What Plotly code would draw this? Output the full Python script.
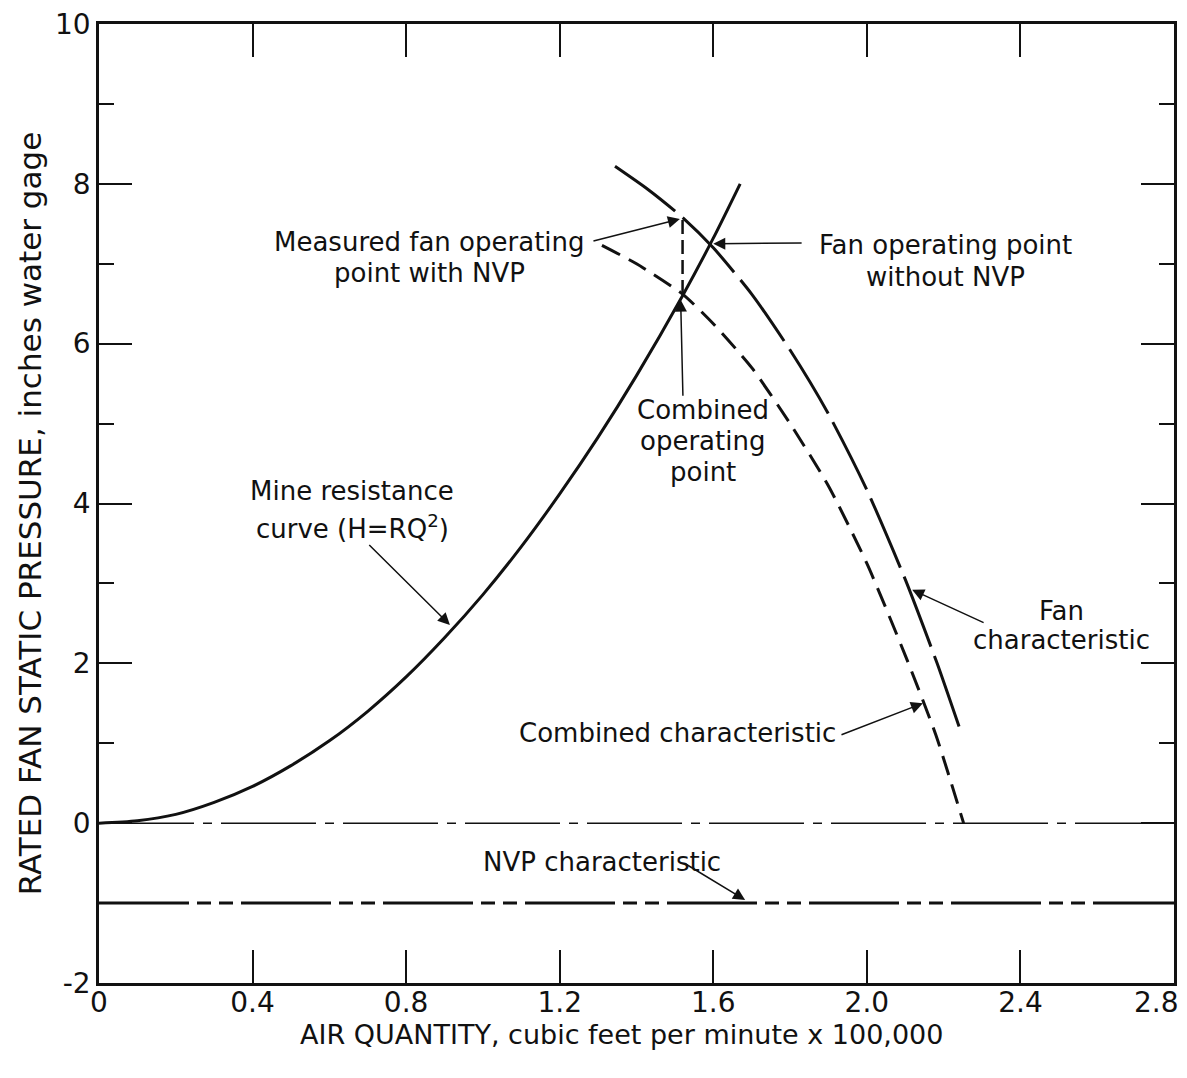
import plotly.graph_objects as go

# ---- data ----
mine_q = [0, 0.1, 0.2, 0.3, 0.4, 0.5, 0.6, 0.7, 0.8, 0.9, 1.0, 1.1, 1.2, 1.3, 1.4, 1.52, 1.6, 1.67]
mine_h = [0, 0.03, 0.11, 0.26, 0.46, 0.72, 1.03, 1.40, 1.83, 2.32, 2.86, 3.46, 4.12, 4.83, 5.60, 6.60, 7.32, 8.0]

fan_q = [1.344, 1.43, 1.52, 1.60, 1.70, 1.80, 1.90, 2.00, 2.10, 2.183, 2.245]
fan_h = [8.22, 7.93, 7.58, 7.20, 6.62, 5.92, 5.12, 4.17, 3.05, 2.00, 1.14]

comb_q = [1.31, 1.40, 1.52, 1.60, 1.70, 1.80, 1.90, 2.00, 2.10, 2.18, 2.252]
comb_h = [7.23, 7.00, 6.62, 6.25, 5.70, 5.00, 4.22, 3.25, 2.10, 1.10, 0.0]

measured_q = [1.52, 1.52]
measured_h = [6.62, 7.58]

zero_q = [0, 2.8]
zero_h = [0, 0]

nvp_q = [0, 2.8]
nvp_h = [-1, -1]

x_ticks = [0, 0.4, 0.8, 1.2, 1.6, 2.0, 2.4, 2.8]
x_ticklabels = ["0", "0.4", "0.8", "1.2", "1.6", "2.0", "2.4", "2.8\u00a0\u00a0\u00a0\u00a0"]
y_ticks = [-2, 0, 2, 4, 6, 8, 10]
y_ticklabels = ["-2", "0", "2", "4", "6", "8", "10"]
y_minor_ticks = [-1, 1, 3, 5, 7, 9]

FONT = "DejaVu Sans"
BLACK = "#111111"

fig = go.Figure()

fig.add_trace(go.Scatter(x=zero_q, y=zero_h, mode="lines",
                         line=dict(color=BLACK, width=1.5, dash="95px,9px,9px,9px")))
fig.add_trace(go.Scatter(x=nvp_q, y=nvp_h, mode="lines",
                         line=dict(color=BLACK, width=3, dash="90px,8px,14px,8px,14px,8px")))
fig.add_trace(go.Scatter(x=mine_q, y=mine_h, mode="lines",
                         line=dict(color=BLACK, width=3, shape="spline", smoothing=0.8)))
fig.add_trace(go.Scatter(x=fan_q, y=fan_h, mode="lines",
                         line=dict(color=BLACK, width=3, shape="spline", smoothing=0.6, dash="75px,10px")))
fig.add_trace(go.Scatter(x=comb_q, y=comb_h, mode="lines",
                         line=dict(color=BLACK, width=3, shape="spline", smoothing=0.6, dash="20px,10px")))
fig.add_trace(go.Scatter(x=measured_q, y=measured_h, mode="lines",
                         line=dict(color=BLACK, width=2.5, dash="14px,6px")))

annotations = []

def label(lines, x, y, spacing=31, size=26):
    n = len(lines)
    for i, t in enumerate(lines):
        annotations.append(dict(x=x, y=y, xref="x", yref="y", text=t, showarrow=False,
                                font=dict(family=FONT, size=size, color=BLACK),
                                xanchor="center", yanchor="middle", align="center",
                                yshift=((n - 1) / 2 - i) * spacing))

def arrow(x0, y0, x1, y1):
    annotations.append(dict(x=x1, y=y1, ax=x0, ay=y0, xref="x", yref="y", axref="x", ayref="y",
                            text="", showarrow=True, arrowhead=2, arrowsize=1.6,
                            arrowwidth=1.5, arrowcolor=BLACK))

label(["Measured fan operating", "point with NVP"], 0.862, 7.08)
arrow(1.284, 7.28, 1.513, 7.56)

label(["Fan operating point", "without NVP"], 2.204, 7.03, spacing=32)
arrow(1.834, 7.26, 1.600, 7.25)

label(["Combined", "operating", "point"], 1.573, 4.78)
arrow(1.521, 5.33, 1.515, 6.55)

label(["Mine resistance", "curve (H=RQ<sup>2</sup>)"], 0.659, 3.93, spacing=36)
arrow(0.70, 3.50, 0.914, 2.48)

label(["Fan", "characteristic"], 2.506, 2.47, spacing=29)
arrow(2.308, 2.50, 2.118, 2.92)

label(["Combined characteristic"], 1.508, 1.13)
arrow(1.93, 1.10, 2.146, 1.50)

label(["NVP characteristic"], 1.31, -0.49)
arrow(1.521, -0.49, 1.683, -0.96)

# axis titles
annotations.append(dict(x=0.4856, y=-0.054, xref="paper", yref="paper",
                        text="AIR QUANTITY, cubic feet per minute x 100,000",
                        showarrow=False, font=dict(family=FONT, size=27, color=BLACK),
                        xanchor="center", yanchor="middle"))
annotations.append(dict(x=-0.064, y=0.489, xref="paper", yref="paper",
                        text="RATED FAN STATIC PRESSURE, inches water gage", textangle=-90,
                        showarrow=False, font=dict(family=FONT, size=31, color=BLACK),
                        xanchor="center", yanchor="middle"))

# page body has an 8px margin: size the figure so the plot area lands where the reference has it
fig.update_layout(
    width=1171, height=1062,
    margin=dict(l=91, r=5, t=16, b=87, autoexpand=False),
    paper_bgcolor="white", plot_bgcolor="white",
    showlegend=False,
    annotations=annotations,
    xaxis=dict(range=[0, 2.8], tickmode="array", tickvals=x_ticks, ticktext=x_ticklabels,
               ticks="inside", ticklen=33, tickwidth=2, tickcolor=BLACK,
               showline=True, linewidth=2.5, linecolor=BLACK, mirror="allticks",
               showgrid=False, zeroline=False, automargin=False,
               ticklabeloverflow="allow", ticklabelstandoff=-7,
               tickfont=dict(family=FONT, size=28, color=BLACK)),
    yaxis=dict(range=[-2, 10], tickmode="array", tickvals=y_ticks, ticktext=y_ticklabels,
               ticks="inside", ticklen=33, tickwidth=2, tickcolor=BLACK,
               showline=True, linewidth=2.5, linecolor=BLACK, mirror="allticks",
               showgrid=False, zeroline=False, automargin=False,
               ticklabeloverflow="allow",
               minor=dict(tickvals=y_minor_ticks, ticks="inside", ticklen=15,
                          tickwidth=2, tickcolor=BLACK, showgrid=False),
               tickfont=dict(family=FONT, size=28, color=BLACK)),
)

fig.write_html("out.html")
